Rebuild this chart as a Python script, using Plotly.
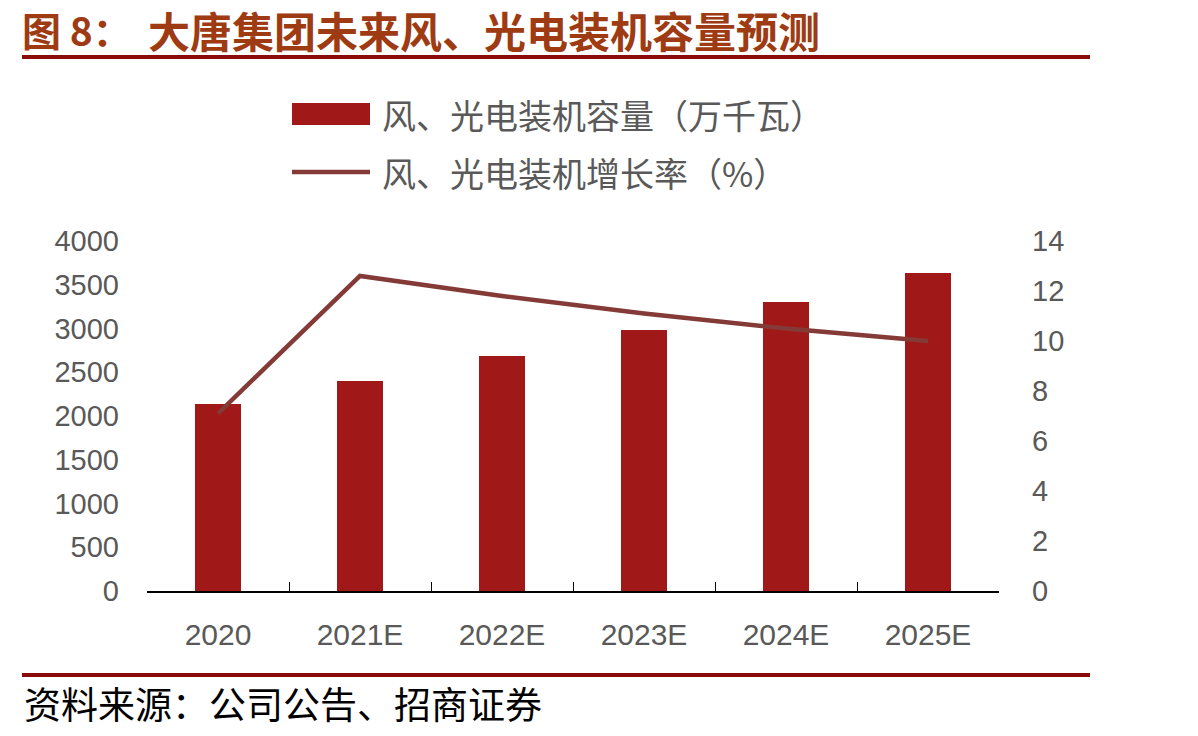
import plotly.graph_objects as go

categories = ["2020", "2021E", "2022E", "2023E", "2024E", "2025E"]
capacity = [2140, 2400, 2690, 2985, 3300, 3635]
growth = [7.1, 12.6, 11.8, 11.1, 10.5, 10.0]
left_ticks = [0, 500, 1000, 1500, 2000, 2500, 3000, 3500, 4000]
right_ticks = [0, 2, 4, 6, 8, 10, 12, 14]

W, H = 1198, 736
PL, PR, PT, PB = 147, 999, 241, 591

def px(x):
    return (x - PL) / (PR - PL)

def py(y):
    return (PB - y) / (PB - PT)

BAR = "#A01818"
LINE = "#843A36"
GRAY = "#595959"
NUM = "Liberation Sans, Arial, sans-serif"
CJK = "Noto Sans CJK SC, sans-serif"

fig = go.Figure()
fig.add_trace(go.Bar(x=categories, y=capacity, name="风、光电装机容量（万千瓦）",
                     marker=dict(color=BAR, line=dict(width=0)), width=0.33, yaxis="y"))
fig.add_trace(go.Scatter(x=categories, y=growth, name="风、光电装机增长率（%）",
                         mode="lines", line=dict(color=LINE, width=4.5), yaxis="y2"))

shapes = [
    dict(type="line", xref="paper", yref="paper", x0=px(22), x1=px(1090), y0=py(57), y1=py(57),
         line=dict(color="#8B0A0A", width=4)),
    dict(type="line", xref="paper", yref="paper", x0=px(22), x1=px(1090), y0=py(675), y1=py(675),
         line=dict(color="#8B0A0A", width=4)),
    dict(type="rect", xref="paper", yref="paper", x0=px(292), x1=px(370), y0=py(103), y1=py(125),
         fillcolor=BAR, line=dict(width=0)),
    dict(type="line", xref="paper", yref="paper", x0=px(292), x1=px(370), y0=py(172), y1=py(172),
         line=dict(color=LINE, width=4.5)),
]

annotations = [
    dict(text="<b>图 8：</b>", xref="paper", yref="paper",
         x=px(20), y=py(29), xanchor="left", yanchor="middle", showarrow=False,
         font=dict(family=CJK, size=39, color="#9E3B12")),
    dict(text="<b>大唐集团未来风、光电装机容量预测</b>", xref="paper", yref="paper",
         x=px(146), y=py(29), xanchor="left", yanchor="middle", showarrow=False,
         font=dict(family=CJK, size=42, color="#9E3B12")),
    dict(text="资料来源：公司公告、招商证券", xref="paper", yref="paper",
         x=px(22), y=py(703), xanchor="left", yanchor="middle", showarrow=False,
         font=dict(family=CJK, size=37, color="#000000")),
    dict(text="风、光电装机容量（万千瓦）", xref="paper", yref="paper",
         x=px(380), y=py(115), xanchor="left", yanchor="middle", showarrow=False,
         font=dict(family=CJK, size=34, color=GRAY)),
    dict(text="风、光电装机增长率（%）", xref="paper", yref="paper",
         x=px(380), y=py(172), xanchor="left", yanchor="middle", showarrow=False,
         font=dict(family=CJK, size=34, color=GRAY)),
]

fig.update_layout(
    width=W, height=H, autosize=False,
    margin=dict(l=PL, r=W - PR, t=PT, b=H - PB, pad=0),
    paper_bgcolor="white", plot_bgcolor="white",
    showlegend=False, bargap=0,
    shapes=shapes, annotations=annotations,
    xaxis=dict(type="category", showline=True, linecolor="#000000", linewidth=1.5,
               ticks="inside", tickson="boundaries", ticklen=9, tickcolor="#000000", tickwidth=1.2,
               tickfont=dict(family=NUM, size=30, color=GRAY), ticklabelstandoff=16,
               showgrid=False, zeroline=False),
    yaxis=dict(range=[0, 4000], tickvals=left_ticks, showgrid=False, showline=False, zeroline=False,
               ticks="", tickfont=dict(family=NUM, size=29, color=GRAY), ticklabelstandoff=27),
    yaxis2=dict(range=[0, 14], tickvals=right_ticks, overlaying="y", side="right",
                showgrid=False, showline=False, zeroline=False, ticks="",
                tickfont=dict(family=NUM, size=29, color=GRAY), ticklabelstandoff=32),
)

fig.write_html("out.html")
